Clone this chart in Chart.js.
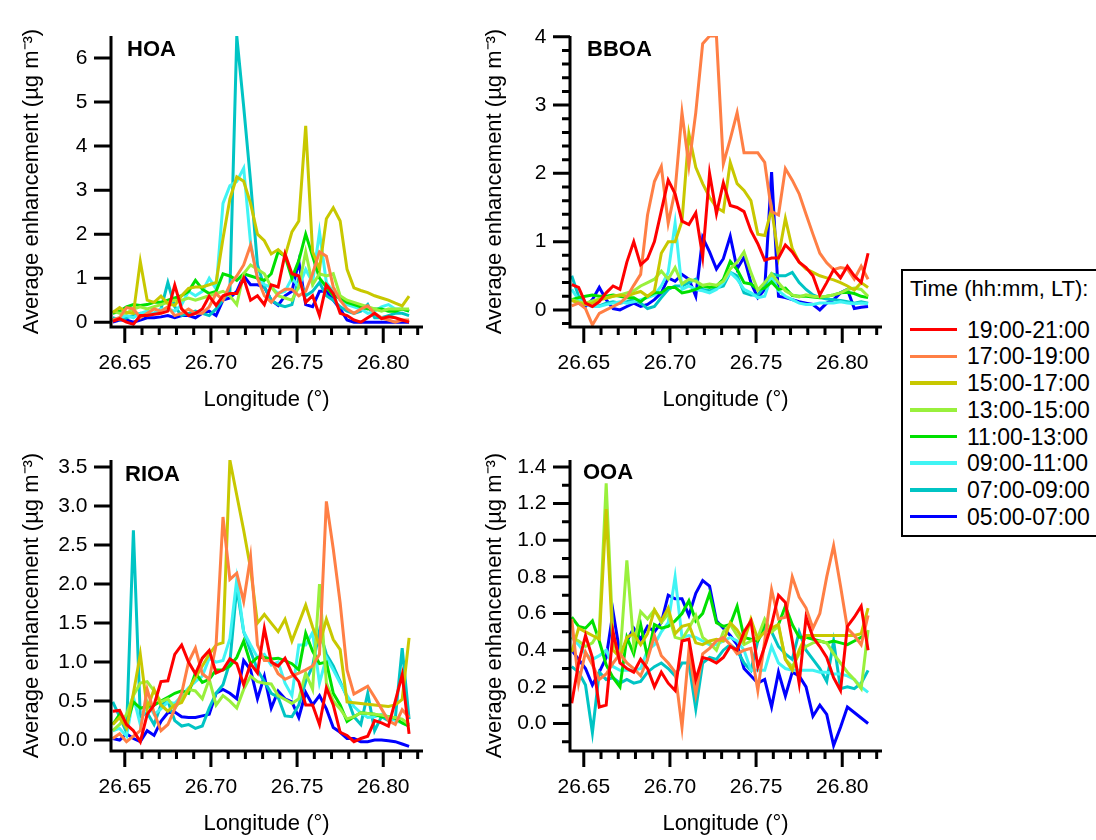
<!DOCTYPE html>
<html>
<head>
<meta charset="utf-8">
<script src="https://cdn.jsdelivr.net/npm/chart.js@4.4.1/dist/chart.umd.min.js"></script>
<style>
    body {
        margin: 0;
        width: 1096px;
        height: 840px;
        background: #fff;
        position: relative;
        overflow: hidden;
        font-family: "Liberation Sans", Arial, sans-serif;
    }
    canvas { position: absolute; }
    #legend {
        position: absolute;
        left: 901px;
        top: 269px;
        width: 230px;
        height: 264px;
        border: 2px solid #000;
    }
    #legend .ttl { position: absolute; left: 7px; top: 5px; font-size: 22px; line-height: 26.7px; white-space: nowrap; }
    #legend .row { position: absolute; left: 7px; height: 26.7px; font-size: 23px; line-height: 26.7px; white-space: nowrap; }
    #legend .ln { position: absolute; left: 0; top: 11.3px; width: 47px; height: 3.5px; }
    #legend .tx { position: absolute; left: 57px; top: 0; }
</style>
</head>
<body>
<canvas id="hoa" width="440" height="416" style="left:0px;top:0px"></canvas>
<canvas id="bboa" width="440" height="416" style="left:459px;top:0px"></canvas>
<canvas id="rioa" width="440" height="416" style="left:0px;top:424px"></canvas>
<canvas id="ooa" width="440" height="416" style="left:459px;top:424px"></canvas>
<div id="legend"><div class="ttl">Time (hh:mm, LT):</div></div>

<script>
const timeLabels = ['19:00-21:00', '17:00-19:00', '15:00-17:00', '13:00-15:00', '11:00-13:00', '09:00-11:00', '07:00-09:00', '05:00-07:00']
const lineColors = ['#ff0000', '#ff7f45', '#c8c800', '#99f03c', '#00e000', '#40f4f4', '#00c4c4', '#0000ff']

const longitude = [26.643, 26.647, 26.651, 26.655, 26.659, 26.663, 26.667, 26.671, 26.675, 26.679, 26.683,
    26.687, 26.691, 26.695, 26.699, 26.703, 26.707, 26.711, 26.715, 26.719, 26.723, 26.727, 26.731, 26.735,
    26.739, 26.743, 26.747, 26.751, 26.755, 26.759, 26.763, 26.767, 26.771, 26.775, 26.779, 26.783, 26.787,
    26.791, 26.795, 26.799, 26.803, 26.807, 26.811, 26.815]

const xTicks = [26.65, 26.70, 26.75, 26.80]
const xMinorTicks = [26.66, 26.67, 26.68, 26.69, 26.71, 26.72, 26.73, 26.74, 26.76, 26.77, 26.78, 26.79, 26.81, 26.82]

// HOA
const hoa19 = [0.02, 0.08, 0.0, -0.05, 0.15, 0.15, 0.18, 0.2, 0.25, 0.84, 0.3, 0.15, 0.2, 0.3, 0.59, 0.38, 0.6, 0.65, 0.65, 1.0, 0.5, 0.6, 0.4, 0.85, 0.8, 1.55, 1.1, 1.05, 0.45, 0.6, 0.15, 0.85, 0.65, 0.2, 0.15, 0.05, 0.0, 0.1, 0.2, 0.08, 0.12, 0.1, 0.05, 0.0]
const hoa17 = [0.05, 0.1, 0.33, 0.3, 0.1, 0.2, 0.3, 0.25, 0.35, 0.15, 0.2, 0.3, 0.2, 0.2, 0.35, 0.65, 0.5, 0.85, 1.05, 1.3, 1.75, 1.0, 0.6, 0.45, 0.65, 0.75, 0.75, 0.6, 0.7, 1.1, 1.6, 1.5, 0.8, 0.5, 0.3, 0.2, 0.3, 0.37, 0.2, 0.1, 0.05, 0.0, 0.05, 0.05]
const hoa15 = [0.22, 0.33, 0.22, 0.2, 1.38, 0.5, 0.45, 0.59, 0.42, 0.38, 0.6, 0.77, 0.8, 0.8, 0.85, 0.9, 1.9, 2.8, 3.3, 3.2, 2.7, 2.0, 1.85, 1.55, 1.65, 1.5, 2.05, 2.3, 4.46, 1.6, 1.2, 2.35, 2.6, 2.3, 1.2, 0.78, 0.72, 0.67, 0.6, 0.55, 0.5, 0.43, 0.37, 0.59]
const hoa13 = [0.25, 0.2, 0.2, 0.3, 0.35, 0.3, 0.35, 0.4, 0.45, 0.5, 0.5, 0.55, 0.5, 0.55, 0.6, 0.65, 0.7, 0.6, 0.4, 1.1, 1.3, 1.2, 1.1, 0.8, 0.6, 0.55, 0.5, 0.8, 1.6, 0.85, 1.1, 1.05, 1.1, 0.6, 0.5, 0.45, 0.4, 0.35, 0.3, 0.25, 0.3, 0.3, 0.3, 0.3]
const hoa11 = [0.2, 0.25, 0.35, 0.4, 0.38, 0.4, 0.45, 0.45, 0.5, 0.55, 0.6, 0.7, 0.95, 0.75, 0.65, 0.7, 1.1, 1.05, 0.95, 1.1, 1.05, 1.0, 0.95, 1.1, 1.6, 1.5, 1.0, 1.4, 2.0, 1.5, 1.0, 0.8, 0.6, 0.55, 0.45, 0.4, 0.35, 0.3, 0.3, 0.3, 0.25, 0.25, 0.3, 0.25]
const hoa09 = [0.05, 0.1, 0.15, 0.1, 0.2, 0.25, 0.2, 0.3, 0.3, 0.25, 0.4, 0.7, 0.6, 0.7, 1.0, 0.75, 2.7, 3.1, 3.2, 3.5, 1.8, 1.0, 0.85, 0.8, 0.65, 0.7, 1.0, 0.8, 1.2, 0.9, 2.05, 0.9, 0.7, 0.5, 0.4, 0.35, 0.3, 0.2, 0.25, 0.35, 0.4, 0.3, 0.3, 0.25]
const hoa07 = [0.1, 0.05, 0.1, 0.15, 0.2, 0.15, 0.2, 0.3, 0.9, 0.35, 0.15, 0.2, 0.25, 0.2, 0.15, 0.3, 0.5, 0.7, 6.5, 4.9, 3.2, 1.3, 0.8, 0.5, 0.4, 0.35, 0.4, 1.0, 0.6, 0.7, 0.9, 0.6, 0.5, 0.35, 0.25, 0.2, 0.25, 0.4, 0.1, 0.1, 0.15, 0.2, 0.2, 0.15]
const hoa05 = [0.0, 0.05, 0.05, 0.0, 0.05, 0.1, 0.1, 0.12, 0.15, 0.1, 0.15, 0.15, 0.1, 0.2, 0.25, 0.15, 0.5, 0.55, 0.7, 1.05, 0.85, 0.85, 0.8, 0.5, 0.38, 0.6, 0.7, 1.38, 0.4, 0.35, 0.7, 0.7, 0.5, 0.3, 0.05, 0.0, 0.0, 0.0, 0.0, 0.0, 0.0, 0.0, 0.0, 0.0]

// BBOA
const bboa19 = [0.37, 0.33, 0.1, 0.05, 0.12, 0.25, 0.35, 0.3, 0.7, 1.0, 0.66, 0.75, 1.0, 1.45, 1.9, 1.7, 1.3, 1.25, 1.42, 0.78, 2.0, 1.41, 1.86, 1.53, 1.5, 1.44, 1.16, 0.97, 0.73, 0.76, 0.76, 0.95, 0.85, 0.7, 0.62, 0.5, 0.22, 0.4, 0.59, 0.47, 0.64, 0.5, 0.4, 0.83]
const bboa17 = [0.06, 0.1, 0.02, -0.22, -0.05, 0.0, 0.05, 0.1, 0.19, 0.36, 0.52, 1.39, 1.88, 2.1, 1.27, 1.75, 2.89, 2.11, 2.89, 3.9, 4.01, 4.01, 2.14, 2.5, 2.89, 2.3, 2.3, 2.3, 2.16, 1.44, 1.39, 2.07, 1.9, 1.7, 1.4, 1.11, 0.83, 0.69, 0.59, 0.62, 0.6, 0.45, 0.64, 0.45]
const bboa15 = [0.14, 0.1, 0.08, 0.1, 0.15, 0.17, 0.2, 0.22, 0.2, 0.24, 0.27, 0.2, 0.28, 0.83, 1.0, 1.0, 1.3, 2.58, 2.09, 1.85, 1.65, 1.5, 1.44, 2.16, 1.85, 1.75, 1.6, 1.11, 1.09, 1.48, 0.78, 1.34, 0.9, 0.7, 0.6, 0.55, 0.5, 0.47, 0.44, 0.4, 0.35, 0.29, 0.4, 0.33]
const bboa13 = [0.15, 0.12, 0.1, 0.13, 0.16, 0.18, 0.2, 0.22, 0.25, 0.28, 0.35, 0.4, 0.45, 0.57, 0.45, 0.62, 0.38, 0.45, 0.42, 0.36, 0.38, 0.36, 0.42, 0.6, 0.7, 0.85, 0.55, 0.29, 0.4, 0.53, 0.4, 0.28, 0.22, 0.19, 0.22, 0.2, 0.19, 0.2, 0.22, 0.25, 0.3, 0.32, 0.3, 0.2]
const bboa11 = [0.15, 0.18, 0.2, 0.22, 0.2, 0.2, 0.22, 0.2, 0.18, 0.18, 0.12, 0.2, 0.25, 0.25, 0.33, 0.33, 0.25, 0.27, 0.3, 0.35, 0.33, 0.35, 0.45, 0.71, 0.59, 0.4, 0.38, 0.3, 0.32, 0.41, 0.3, 0.32, 0.21, 0.2, 0.2, 0.19, 0.18, 0.2, 0.22, 0.25, 0.26, 0.24, 0.2, 0.18]
const bboa09 = [0.3, 0.15, 0.08, 0.05, 0.05, 0.08, 0.1, 0.12, 0.1, 0.12, 0.15, 0.18, 0.22, 0.35, 0.55, 1.27, 0.3, 0.35, 0.3, 0.28, 0.25, 0.3, 0.4, 0.55, 0.45, 0.3, 0.25, 0.18, 0.2, 0.5, 0.28, 0.2, 0.15, 0.1, 0.08, 0.08, 0.1, 0.1, 0.1, 0.12, 0.1, 0.09, 0.1, 0.09]
const bboa07 = [0.5, 0.2, 0.1, 0.05, 0.06, 0.1, 0.12, 0.1, 0.12, 0.15, 0.1, 0.02, 0.05, 0.18, 0.3, 0.35, 0.35, 0.4, 0.45, 0.3, 0.28, 0.32, 0.35, 0.55, 0.5, 0.25, 0.22, 0.22, 0.35, 0.53, 0.5, 0.5, 0.55, 0.4, 0.3, 0.22, 0.18, 0.16, 0.15, 0.14, 0.12, 0.1, 0.12, 0.1]
const bboa05 = [0.15, 0.1, 0.05, 0.15, 0.33, 0.15, 0.02, 0.0, 0.05, 0.1, 0.05, 0.08, 0.15, 0.25, 0.47, 0.42, 0.52, 0.45, 0.2, 1.06, 0.85, 0.6, 0.75, 1.08, 0.6, 0.77, 0.4, 0.18, 0.3, 2.02, 0.2, 0.18, 0.15, 0.12, 0.1, 0.08, 0.0, 0.1, 0.15, 0.25, 0.3, 0.02, 0.04, 0.05]

// RIOA
const rioa19 = [0.37, 0.38, 0.2, 0.12, -0.02, 0.33, 0.45, 0.75, 0.76, 1.1, 1.22, 1.0, 0.85, 1.05, 1.15, 0.86, 0.9, 1.04, 0.98, 0.71, 0.98, 0.86, 1.43, 1.0, 0.95, 1.05, 0.86, 0.75, 0.45, 0.45, 0.2, 0.67, 0.45, 0.1, 0.06, -0.02, 0.02, 0.05, 0.25, 0.22, 0.18, 0.5, 0.84, 0.08]
const rioa17 = [0.02, 0.08, -0.02, 0.05, 0.12, 0.65, 0.35, 0.12, 0.2, 0.4, 0.6, 1.0, 1.18, 0.85, 0.78, 1.22, 2.86, 2.06, 2.14, 1.78, 2.35, 1.22, 1.02, 1.02, 0.85, 0.78, 0.82, 0.86, 0.9, 0.95, 1.1, 3.06, 2.45, 1.76, 0.9, 0.59, 0.64, 0.69, 0.55, 0.4, 0.25, 0.2, 0.39, 0.29]
const rioa15 = [0.2, 0.29, 0.15, 0.6, 1.1, 0.4, 0.65, 0.45, 0.37, 0.45, 0.48, 0.65, 0.8, 0.95, 1.1, 1.22, 1.25, 3.59, 3.14, 2.69, 2.2, 1.5, 1.61, 1.5, 1.39, 1.55, 1.27, 1.5, 1.73, 1.45, 1.22, 1.55, 1.29, 1.16, 0.49, 0.48, 0.47, 0.46, 0.45, 0.44, 0.43, 0.45, 0.52, 1.31]
const rioa13 = [0.12, 0.2, 0.33, 0.57, 0.73, 0.75, 0.63, 0.49, 0.53, 0.41, 0.53, 0.65, 0.63, 0.53, 0.78, 0.45, 0.57, 0.5, 0.41, 0.65, 0.82, 0.75, 0.73, 0.72, 0.57, 0.52, 0.47, 0.53, 0.86, 0.65, 2.0, 0.73, 0.5, 0.4, 0.27, 0.3, 0.35, 0.34, 0.33, 0.32, 0.3, 0.29, 0.27, 0.2]
const rioa11 = [0.2, 0.33, 0.2, 0.49, 0.41, 0.43, 0.45, 0.5, 0.55, 0.6, 0.63, 0.6, 0.86, 0.74, 0.78, 0.9, 0.9, 0.95, 1.06, 1.27, 0.98, 1.06, 1.06, 1.04, 1.05, 1.02, 0.98, 0.9, 1.37, 1.14, 0.98, 1.0, 0.6, 0.45, 0.24, 0.3, 0.35, 0.34, 0.33, 0.3, 0.3, 0.28, 0.22, 0.18]
const rioa09 = [0.12, 0.15, 0.05, 0.55, 0.2, 0.49, 0.33, 0.4, 0.49, 0.47, 0.57, 0.67, 0.75, 0.82, 1.05, 1.0, 1.02, 1.3, 2.06, 1.39, 1.22, 1.06, 1.1, 0.96, 1.0, 0.73, 0.57, 1.22, 1.22, 1.38, 0.73, 1.06, 0.9, 0.73, 0.57, 0.43, 0.35, 0.29, 0.3, 0.33, 0.3, 0.25, 0.22, 0.18]
const rioa07 = [0.49, 0.3, 0.1, 2.69, 0.3, 0.35, 0.2, 0.45, 0.5, 0.25, 0.18, 0.2, 0.15, 0.18, 0.41, 0.6, 0.71, 1.0, 1.96, 1.39, 1.14, 0.9, 0.75, 0.6, 0.55, 0.31, 0.3, 0.45, 0.75, 0.95, 1.4, 1.1, 0.95, 0.75, 0.55, 0.3, 0.2, 0.6, 0.12, 0.3, 0.25, 0.28, 1.18, 0.27]
const rioa05 = [0.02, 0.0, 0.08, 0.02, -0.02, 0.12, 0.06, 0.24, 0.35, 0.36, 0.3, 0.29, 0.29, 0.31, 0.33, 0.6, 0.65, 0.6, 0.53, 1.02, 0.9, 0.53, 0.82, 0.41, 0.63, 0.53, 0.49, 0.29, 0.61, 0.45, 0.57, 0.4, 0.16, 0.1, 0.02, 0.02, -0.02, -0.02, 0.0, 0.0, -0.01, -0.02, -0.05, -0.08]

// OOA
const ooa19 = [0.11, 0.33, 0.48, 0.36, 0.09, 0.1, 0.5, 0.33, 0.3, 0.28, 0.35, 0.3, 0.2, 0.28, 0.22, 0.18, 0.45, 0.46, 0.24, 0.36, 0.35, 0.33, 0.36, 0.42, 0.4, 0.5, 0.56, 0.31, 0.42, 0.54, 0.7, 0.66, 0.45, 0.22, 0.58, 0.47, 0.42, 0.36, 0.25, 0.18, 0.53, 0.58, 0.64, 0.4]
const ooa17 = [0.57, 0.22, 0.39, 0.32, 0.24, 0.27, 0.33, 0.38, 0.33, 0.3, 0.26, 0.35, 0.48, 0.37, 0.33, 0.28, -0.02, 0.4, 0.16, 0.38, 0.41, 0.45, 0.47, 0.43, 0.38, 0.4, 0.41, 0.18, 0.45, 0.73, 0.57, 0.58, 0.8, 0.69, 0.63, 0.52, 0.6, 0.8, 0.97, 0.75, 0.52, 0.48, 0.43, 0.59]
const ooa15 = [0.39, 0.52, 0.5, 0.48, 0.46, 1.17, 0.4, 0.36, 0.47, 0.49, 0.43, 0.49, 0.62, 0.56, 0.63, 0.49, 0.53, 0.54, 0.44, 0.43, 0.45, 0.46, 0.45, 0.55, 0.51, 0.45, 0.57, 0.46, 0.5, 0.52, 0.54, 0.35, 0.29, 0.4, 0.48, 0.48, 0.48, 0.48, 0.48, 0.48, 0.48, 0.48, 0.49, 0.63]
const ooa13 = [0.47, 0.45, 0.42, 0.44, 0.5, 1.31, 0.45, 0.36, 0.89, 0.43, 0.61, 0.57, 0.62, 0.55, 0.6, 0.47, 0.46, 0.52, 0.59, 0.47, 0.44, 0.4, 0.5, 0.54, 0.48, 0.43, 0.45, 0.47, 0.57, 0.5, 0.53, 0.35, 0.31, 0.38, 0.42, 0.44, 0.45, 0.44, 0.38, 0.33, 0.28, 0.24, 0.19, 0.51]
const ooa11 = [0.58, 0.53, 0.52, 0.56, 0.45, 0.32, 0.25, 0.2, 0.47, 0.38, 0.54, 0.36, 0.54, 0.52, 0.53, 0.56, 0.6, 0.67, 0.56, 0.6, 0.71, 0.55, 0.53, 0.54, 0.64, 0.47, 0.46, 0.45, 0.54, 0.5, 0.54, 0.64, 0.54, 0.47, 0.47, 0.46, 0.45, 0.44, 0.45, 0.44, 0.43, 0.45, 0.47, 0.5]
const ooa09 = [0.47, 0.43, 0.38, 0.35, 0.37, 0.4, 0.31, 0.29, 0.29, 0.29, 0.3, 0.4, 0.43, 0.5, 0.55, 0.8, 0.47, 0.48, 0.47, 0.45, 0.43, 0.43, 0.45, 0.47, 0.45, 0.4, 0.29, 0.29, 0.29, 0.42, 0.33, 0.3, 0.29, 0.29, 0.29, 0.29, 0.28, 0.28, 0.27, 0.27, 0.26, 0.24, 0.2, 0.17]
const ooa07 = [0.31, 0.28, 0.21, -0.05, 0.28, 0.24, 0.25, 0.22, 0.24, 0.22, 0.23, 0.28, 0.31, 0.33, 0.3, 0.26, 0.33, 0.33, 0.08, 0.33, 0.36, 0.35, 0.4, 0.43, 0.4, 0.33, 0.29, 0.45, 0.52, 0.5, 0.42, 0.38, 0.35, 0.5, 0.4, 0.35, 0.3, 0.23, 0.45, 0.19, 0.2, 0.19, 0.22, 0.29]
const ooa05 = [0.4, 0.35, 0.3, 0.21, 0.28, 0.36, 0.61, 0.38, 0.45, 0.52, 0.46, 0.53, 0.5, 0.55, 0.7, 0.68, 0.68, 0.59, 0.71, 0.78, 0.75, 0.56, 0.52, 0.48, 0.43, 0.3, 0.26, 0.22, 0.24, 0.09, 0.28, 0.15, 0.28, 0.26, 0.2, 0.04, 0.1, 0.05, -0.12, -0.02, 0.09, 0.06, 0.03, 0.0]

const hoaTicks = [0, 1, 2, 3, 4, 5, 6]
const bboaTicks = [0, 1, 2, 3, 4]
const rioaTicks = [0, 0.5, 1.0, 1.5, 2.0, 2.5, 3.0, 3.5]
const ooaTicks = [0, 0.2, 0.4, 0.6, 0.8, 1.0, 1.2, 1.4]
const bboaMinor = [-0.2, 0.2, 0.4, 0.6, 0.8, 1.2, 1.4, 1.6, 1.8, 2.2, 2.4, 2.6, 2.8, 3.2, 3.4, 3.6, 3.8]
const ooaMinor = [-0.1, 0.1, 0.3, 0.5, 0.7, 0.9, 1.1, 1.3]

Chart.defaults.font.family = '"Liberation Sans", Arial, sans-serif'
Chart.defaults.color = '#000'

// axis lines, tick marks and the panel name, drawn on the scales' own pixels
const igorAxes = {
    id: 'igorAxes',
    afterDatasetsDraw(chart, args, opts) {
        const ctx = chart.ctx
        const a = chart.chartArea
        const x = chart.scales.x
        const y = chart.scales.y
        ctx.save()
        ctx.strokeStyle = '#000'
        ctx.lineWidth = 3
        ctx.lineCap = 'butt'
        ctx.beginPath()
        ctx.moveTo(a.left, a.top)
        ctx.lineTo(a.left, a.bottom)
        ctx.lineTo(a.right + 1, a.bottom)
        ctx.stroke()

        ctx.beginPath()
        xTicks.forEach(v => {
            const px = x.getPixelForValue(v)
            ctx.moveTo(px, a.bottom)
            ctx.lineTo(px, a.bottom + 16)
        })
        xMinorTicks.forEach(v => {
            const px = x.getPixelForValue(v)
            ctx.moveTo(px, a.bottom)
            ctx.lineTo(px, a.bottom + 8)
        })
        opts.major.forEach(v => {
            const py = y.getPixelForValue(v)
            ctx.moveTo(a.left, py)
            ctx.lineTo(a.left - 17, py)
        })
        opts.minor.forEach(v => {
            const py = y.getPixelForValue(v)
            ctx.moveTo(a.left, py)
            ctx.lineTo(a.left - 8, py)
        })
        ctx.stroke()

        ctx.fillStyle = '#000'
        ctx.font = 'bold 22px "Liberation Sans", Arial, sans-serif'
        ctx.textBaseline = 'alphabetic'
        ctx.fillText(opts.name, a.left + opts.nameDx, a.top + opts.nameDy)
        ctx.restore()
    }
}

function makePanel(id, p) {
    const datasets = p.series.map((vals, k) => ({
        label: timeLabels[k],
        data: longitude.map((lon, i) => ({ x: lon, y: vals[i] })),
        borderColor: lineColors[k],
        backgroundColor: lineColors[k],
        borderWidth: 3,
        pointRadius: 0,
        tension: 0,
        fill: false
    }))

    return new Chart(document.getElementById(id), {
        type: 'line',
        data: { datasets: datasets },
        options: {
            responsive: false,
            animation: false,
            events: [],
            layout: { padding: { top: 23, right: 18, left: 0, bottom: 0 } },
            plugins: {
                legend: { display: false },
                tooltip: { enabled: false },
                igorAxes: { name: p.name, major: p.yTicks, minor: p.yMinor, nameDx: p.nameDx, nameDy: p.nameDy }
            },
            scales: {
                x: {
                    type: 'linear',
                    min: 26.642,
                    max: 26.8225,
                    grid: { display: false, drawTicks: false },
                    border: { display: false },
                    afterBuildTicks: s => { s.ticks = xTicks.map(v => ({ value: v })) },
                    afterFit: s => { s.height = 89 },
                    ticks: {
                        autoSkip: false,
                        maxRotation: 0,
                        padding: 24,
                        font: { size: 21 },
                        callback: v => v.toFixed(2)
                    },
                    title: {
                        display: true,
                        text: 'Longitude (°)',
                        font: { size: 22 },
                        padding: { top: 0, bottom: 2.8 }
                    }
                },
                y: {
                    type: 'linear',
                    min: p.yMin,
                    max: p.yMax,
                    grid: { display: false, drawTicks: false },
                    border: { display: false },
                    afterBuildTicks: s => { s.ticks = p.yTicks.map(v => ({ value: v })) },
                    afterFit: s => { s.width = 111 },
                    ticks: {
                        autoSkip: false,
                        padding: 23.5,
                        font: { size: 21 },
                        callback: v => v.toFixed(p.dec)
                    },
                    title: {
                        display: true,
                        text: 'Average enhancement (µg m⁻³)',
                        font: { size: 22 },
                        padding: { top: p.titlePad, bottom: 0 }
                    }
                }
            }
        },
        plugins: [igorAxes]
    })
}

makePanel('hoa', { name: 'HOA', yMin: -0.11, yMax: 6.5, yTicks: hoaTicks, yMinor: [], dec: 0, titlePad: 19, nameDx: 16, nameDy: 20,
    series: [hoa19, hoa17, hoa15, hoa13, hoa11, hoa09, hoa07, hoa05] })
makePanel('bboa', { name: 'BBOA', yMin: -0.25, yMax: 4.01, yTicks: bboaTicks, yMinor: bboaMinor, dec: 0, titlePad: 23, nameDx: 17, nameDy: 20,
    series: [bboa19, bboa17, bboa15, bboa13, bboa11, bboa09, bboa07, bboa05] })
makePanel('rioa', { name: 'RIOA', yMin: -0.14, yMax: 3.59, yTicks: rioaTicks, yMinor: [], dec: 1, titlePad: 19, nameDx: 14, nameDy: 21,
    series: [rioa19, rioa17, rioa15, rioa13, rioa11, rioa09, rioa07, rioa05] })
makePanel('ooa', { name: 'OOA', yMin: -0.15, yMax: 1.437, yTicks: ooaTicks, yMinor: ooaMinor, dec: 1, titlePad: 23, nameDx: 13, nameDy: 19,
    series: [ooa19, ooa17, ooa15, ooa13, ooa11, ooa09, ooa07, ooa05] })

// legend box
const legend = document.getElementById('legend')
timeLabels.forEach((t, k) => {
    const row = document.createElement('div')
    row.className = 'row'
    row.style.top = (45.7 + k * 26.7) + 'px'
    row.innerHTML = '<div class="ln" style="background:' + lineColors[k] + '"></div><div class="tx">' + t + '</div>'
    legend.appendChild(row)
})
</script>
</body>
</html>
